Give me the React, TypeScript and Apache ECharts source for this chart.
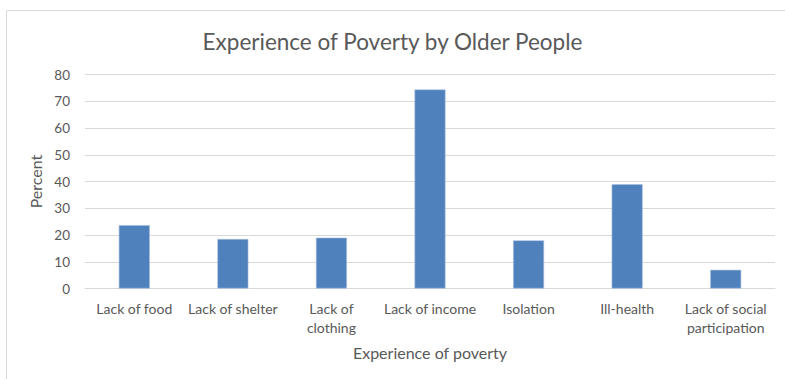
import React, { useEffect, useRef } from "react";
import * as echarts from "echarts";

const categories = [
  "Lack of food",
  "Lack of shelter",
  "Lack of\nclothing",
  "Lack of income",
  "Isolation",
  "Ill-health",
  "Lack of social\nparticipation",
];
const percentValues = [23.7, 18.5, 19.0, 74.4, 18.0, 39.0, 7.0];
const yTicks = { min: 0, max: 80, interval: 10 };
const titleText = "Experience of Poverty by Older People";
const xAxisName = "Experience of poverty";
const yAxisName = "Percent";

const FONT = "Lato, 'Open Sans', sans-serif";
const TEXT = "#595959";
const GRID = "#d9d9d9";

export default function App() {
  const ref = useRef<HTMLDivElement>(null);
  useEffect(() => {
    if (!ref.current) return;
    const chart = echarts.init(ref.current, undefined, { renderer: "svg" });
    chart.setOption({
      animation: false,
      backgroundColor: "#ffffff",
      textStyle: { fontFamily: FONT },
      graphic: [
        {
          type: "rect",
          shape: { x: 6.5, y: 10.5, width: 800, height: 400 },
          style: { fill: "none", stroke: GRID, lineWidth: 1 },
          silent: true,
          z: -10,
        },
      ],
      title: {
        text: titleText,
        left: "center",
        top: 25,
        textStyle: { fontFamily: FONT, fontSize: 22.5, fontWeight: "normal", color: TEXT },
      },
      grid: { left: 85, right: 10, top: 74.5, bottom: 90.5, containLabel: false },
      xAxis: {
        type: "category",
        data: categories,
        name: xAxisName,
        nameLocation: "middle",
        nameGap: 56,
        nameTextStyle: { fontFamily: FONT, fontSize: 16, color: TEXT },
        axisLine: { show: true, lineStyle: { color: GRID, width: 1 } },
        axisTick: { show: false },
        axisLabel: {
          fontFamily: FONT,
          fontSize: 14,
          color: TEXT,
          margin: 10,
          lineHeight: 19,
          interval: 0,
        },
      },
      yAxis: {
        type: "value",
        min: yTicks.min,
        max: yTicks.max,
        interval: yTicks.interval,
        name: yAxisName,
        nameLocation: "middle",
        nameGap: 40,
        nameRotate: 90,
        nameTextStyle: { fontFamily: FONT, fontSize: 16, color: TEXT },
        axisLine: { show: false },
        axisTick: { show: false },
        axisLabel: { fontFamily: FONT, fontSize: 13.5, color: TEXT, margin: 15 },
        splitLine: { show: true, lineStyle: { color: GRID, width: 1 } },
      },
      series: [
        {
          type: "bar",
          data: percentValues,
          barWidth: 31,
          itemStyle: { color: "#4f81bd", borderColor: "#a7c0e0", borderWidth: 0.6 },
        },
      ],
    });
    return () => chart.dispose();
  }, []);
  return (
    <div
      ref={ref}
      style={{ position: "absolute", left: 0, top: 0, width: 785, height: 379 }}
    />
  );
}
